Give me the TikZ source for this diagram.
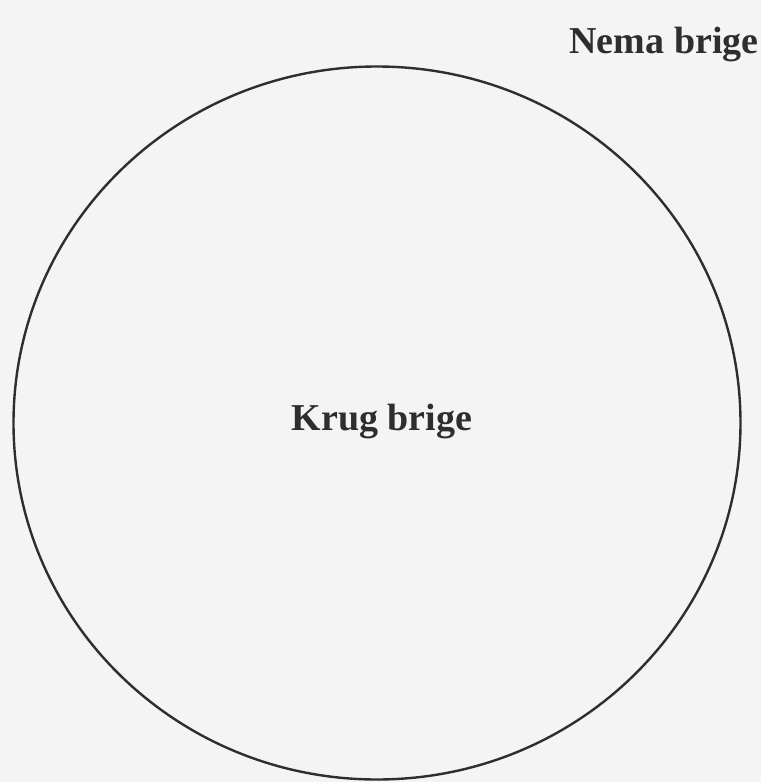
\documentclass[tikz,border=0pt]{standalone}
\usepackage{fontspec}
\setmainfont{Liberation Serif}
\usetikzlibrary{shapes.geometric}
\definecolor{paper}{HTML}{F4F4F4}
\definecolor{ink}{HTML}{2E2E2E}
\tikzset{
  label/.style={font=\fontsize{38}{40}\selectfont\bfseries, text=ink, inner sep=0pt, anchor=base},
  ring/.style={draw=ink, line width=2.4pt, ellipse, inner sep=0pt, minimum width=727pt, minimum height=713pt}
}
\begin{document}
\begin{tikzpicture}[x=1pt,y=1pt]
\fill[paper] (0,0) rectangle (761,-782);
\useasboundingbox (0,0) rectangle (761,-782);
\node[ring] (krug) at (377,-423) {};
\node[label] (krugtxt) at (382,-430) {Krug brige};
\node[label] (nema) at (664,-53) {Nema brige};
\end{tikzpicture}
\end{document}
